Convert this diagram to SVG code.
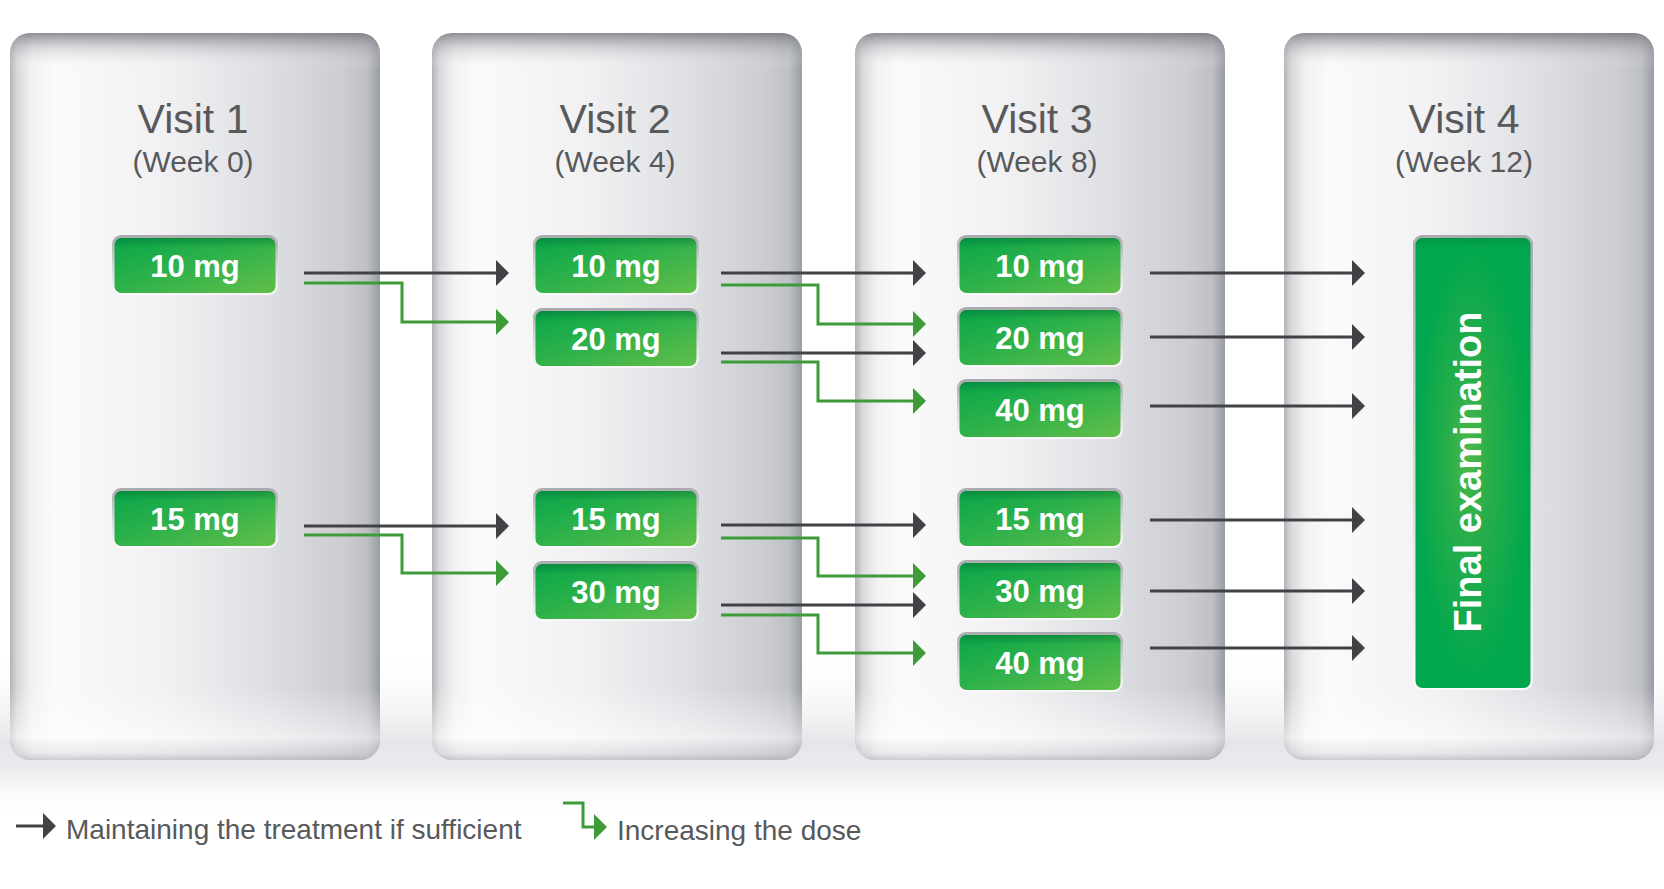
<svg xmlns="http://www.w3.org/2000/svg" width="1664" height="889" viewBox="0 0 1664 889">
<defs>
<style>
.vt{font-family:"Liberation Sans",Arial,sans-serif;font-size:41px;fill:#58595b;text-anchor:middle}
.wk{font-family:"Liberation Sans",Arial,sans-serif;font-size:30px;fill:#58595b;text-anchor:middle}
.dose{font-family:"Liberation Sans",Arial,sans-serif;font-size:31px;font-weight:bold;fill:#ffffff;text-anchor:middle}
.lg{font-family:"Liberation Sans",Arial,sans-serif;font-size:28px;fill:#58595b}
.dk{fill:none;stroke:#414246;stroke-width:3;marker-end:url(#ahd)}
.gr{fill:none;stroke:#3d9b38;stroke-width:3;marker-end:url(#ahg)}
.pbase{fill:url(#panelH)}
.ptop{fill:url(#panelV)}
.bframe{fill:url(#boxFrame)}
.bgreen{fill:url(#boxGreen)}
.bshade{fill:url(#boxTop)}
</style>
<linearGradient id="panelH" x1="0" y1="0" x2="1" y2="0">
<stop offset="0" stop-color="#b4b4b8"/>
<stop offset="0.02" stop-color="#d9d9dc"/>
<stop offset="0.06" stop-color="#f2f2f3"/>
<stop offset="0.12" stop-color="#fafafa"/>
<stop offset="0.42" stop-color="#f1f1f3"/>
<stop offset="0.68" stop-color="#dfe0e4"/>
<stop offset="0.9" stop-color="#cbcdd2"/>
<stop offset="0.965" stop-color="#bec0c6"/>
<stop offset="1" stop-color="#989ba2"/>
</linearGradient>
<linearGradient id="panelV" x1="0" y1="0" x2="0" y2="1">
<stop offset="0" stop-color="#6c6e74" stop-opacity="0.75"/>
<stop offset="0.018" stop-color="#8c8e94" stop-opacity="0.35"/>
<stop offset="0.05" stop-color="#ffffff" stop-opacity="0"/>
<stop offset="0.9" stop-color="#ffffff" stop-opacity="0"/>
<stop offset="0.97" stop-color="#ffffff" stop-opacity="0.55"/>
<stop offset="0.99" stop-color="#d8d9dc" stop-opacity="0.4"/>
<stop offset="1" stop-color="#a8aab0" stop-opacity="0.6"/>
</linearGradient>
<linearGradient id="floor" x1="0" y1="0" x2="0" y2="1">
<stop offset="0" stop-color="#ffffff" stop-opacity="0"/>
<stop offset="0.55" stop-color="#e4e5e8"/>
<stop offset="0.7" stop-color="#ebecee"/>
<stop offset="1" stop-color="#ffffff" stop-opacity="0"/>
</linearGradient>
<linearGradient id="boxFrame" x1="0" y1="0" x2="0" y2="1">
<stop offset="0" stop-color="#a9aaad"/>
<stop offset="0.5" stop-color="#d6d7d9"/>
<stop offset="1" stop-color="#fbfbfb"/>
</linearGradient>
<linearGradient id="boxGreen" x1="0" y1="0" x2="1" y2="1">
<stop offset="0" stop-color="#08a64a"/>
<stop offset="0.45" stop-color="#2cb14a"/>
<stop offset="1" stop-color="#62be4a"/>
</linearGradient>
<linearGradient id="boxTop" x1="0" y1="0" x2="0" y2="1">
<stop offset="0" stop-color="#006b2e" stop-opacity="0.45"/>
<stop offset="0.18" stop-color="#006b2e" stop-opacity="0"/>
<stop offset="1" stop-color="#006b2e" stop-opacity="0"/>
</linearGradient>
<radialGradient id="finalGreen" cx="0.5" cy="0.5" r="0.5" fx="0.45" fy="0.48">
<stop offset="0" stop-color="#4fb848"/>
<stop offset="0.35" stop-color="#2aae4a"/>
<stop offset="1" stop-color="#00a74e"/>
</radialGradient>
<marker id="ahd" markerUnits="userSpaceOnUse" viewBox="0 0 16 28" markerWidth="16" markerHeight="28" refX="2" refY="13" orient="auto">
<path d="M0,0 L13,13 L0,26 Z" fill="#414246"/>
</marker>
<marker id="ahg" markerUnits="userSpaceOnUse" viewBox="0 0 16 28" markerWidth="16" markerHeight="28" refX="2" refY="13" orient="auto">
<path d="M0,0 L13,13 L0,26 Z" fill="#3d9b38"/>
</marker>
</defs>
<rect x="0" y="0" width="1664" height="889" fill="#ffffff"/>
<rect x="0" y="650" width="1664" height="170" fill="url(#floor)"/>

<g id="panel-visit1">
<rect class="pbase" x="10" y="33" width="370" height="727" rx="20"/>
<rect class="ptop" x="10" y="33" width="370" height="727" rx="20"/>
<text class="vt" x="193" y="133">Visit 1</text>
<text class="wk" x="193" y="172">(Week 0)</text>
</g>
<g id="panel-visit2">
<rect class="pbase" x="432" y="33" width="370" height="727" rx="20"/>
<rect class="ptop" x="432" y="33" width="370" height="727" rx="20"/>
<text class="vt" x="615" y="133">Visit 2</text>
<text class="wk" x="615" y="172">(Week 4)</text>
</g>
<g id="panel-visit3">
<rect class="pbase" x="855" y="33" width="370" height="727" rx="20"/>
<rect class="ptop" x="855" y="33" width="370" height="727" rx="20"/>
<text class="vt" x="1037" y="133">Visit 3</text>
<text class="wk" x="1037" y="172">(Week 8)</text>
</g>
<g id="panel-visit4">
<rect class="pbase" x="1284" y="33" width="370" height="727" rx="20"/>
<rect class="ptop" x="1284" y="33" width="370" height="727" rx="20"/>
<text class="vt" x="1464" y="133">Visit 4</text>
<text class="wk" x="1464" y="172">(Week 12)</text>
</g>

<g id="v1-10mg"><rect class="bframe" x="112" y="235" width="166" height="60" rx="9"/><rect class="bgreen" x="114.5" y="238" width="161" height="55" rx="7"/><rect class="bshade" x="114.5" y="238" width="161" height="55" rx="7"/><text class="dose" x="195" y="277">10 mg</text></g>
<g id="v1-15mg"><rect class="bframe" x="112" y="488" width="166" height="60" rx="9"/><rect class="bgreen" x="114.5" y="491" width="161" height="55" rx="7"/><rect class="bshade" x="114.5" y="491" width="161" height="55" rx="7"/><text class="dose" x="195" y="530">15 mg</text></g>

<g id="v2-10mg"><rect class="bframe" x="533" y="235" width="166" height="60" rx="9"/><rect class="bgreen" x="535.5" y="238" width="161" height="55" rx="7"/><rect class="bshade" x="535.5" y="238" width="161" height="55" rx="7"/><text class="dose" x="616" y="277">10 mg</text></g>
<g id="v2-20mg"><rect class="bframe" x="533" y="308" width="166" height="60" rx="9"/><rect class="bgreen" x="535.5" y="311" width="161" height="55" rx="7"/><rect class="bshade" x="535.5" y="311" width="161" height="55" rx="7"/><text class="dose" x="616" y="350">20 mg</text></g>
<g id="v2-15mg"><rect class="bframe" x="533" y="488" width="166" height="60" rx="9"/><rect class="bgreen" x="535.5" y="491" width="161" height="55" rx="7"/><rect class="bshade" x="535.5" y="491" width="161" height="55" rx="7"/><text class="dose" x="616" y="530">15 mg</text></g>
<g id="v2-30mg"><rect class="bframe" x="533" y="561" width="166" height="60" rx="9"/><rect class="bgreen" x="535.5" y="564" width="161" height="55" rx="7"/><rect class="bshade" x="535.5" y="564" width="161" height="55" rx="7"/><text class="dose" x="616" y="603">30 mg</text></g>

<g id="v3-10mg"><rect class="bframe" x="957" y="235" width="166" height="60" rx="9"/><rect class="bgreen" x="959.5" y="238" width="161" height="55" rx="7"/><rect class="bshade" x="959.5" y="238" width="161" height="55" rx="7"/><text class="dose" x="1040" y="277">10 mg</text></g>
<g id="v3-20mg"><rect class="bframe" x="957" y="307" width="166" height="60" rx="9"/><rect class="bgreen" x="959.5" y="310" width="161" height="55" rx="7"/><rect class="bshade" x="959.5" y="310" width="161" height="55" rx="7"/><text class="dose" x="1040" y="349">20 mg</text></g>
<g id="v3-40mg-a"><rect class="bframe" x="957" y="379" width="166" height="60" rx="9"/><rect class="bgreen" x="959.5" y="382" width="161" height="55" rx="7"/><rect class="bshade" x="959.5" y="382" width="161" height="55" rx="7"/><text class="dose" x="1040" y="421">40 mg</text></g>
<g id="v3-15mg"><rect class="bframe" x="957" y="488" width="166" height="60" rx="9"/><rect class="bgreen" x="959.5" y="491" width="161" height="55" rx="7"/><rect class="bshade" x="959.5" y="491" width="161" height="55" rx="7"/><text class="dose" x="1040" y="530">15 mg</text></g>
<g id="v3-30mg"><rect class="bframe" x="957" y="560" width="166" height="60" rx="9"/><rect class="bgreen" x="959.5" y="563" width="161" height="55" rx="7"/><rect class="bshade" x="959.5" y="563" width="161" height="55" rx="7"/><text class="dose" x="1040" y="602">30 mg</text></g>
<g id="v3-40mg-b"><rect class="bframe" x="957" y="632" width="166" height="60" rx="9"/><rect class="bgreen" x="959.5" y="635" width="161" height="55" rx="7"/><rect class="bshade" x="959.5" y="635" width="161" height="55" rx="7"/><text class="dose" x="1040" y="674">40 mg</text></g>

<g id="v4-final">
<rect class="bframe" x="1413" y="235" width="120" height="455" rx="9"/>
<rect x="1415.5" y="238" width="115" height="450" rx="7" fill="url(#finalGreen)"/>
<rect class="bshade" x="1415.5" y="238" width="115" height="60" rx="7" opacity="0.6"/>
<text class="dose" style="font-size:38px" transform="translate(1481 472) rotate(-90)" x="0" y="0">Final examination</text>
</g>

<g id="connectors">
<path class="dk" d="M304,273 H498"/>
<path class="gr" d="M304,283 H402 V322 H498"/>
<path class="dk" d="M304,526 H498"/>
<path class="gr" d="M304,535 H402 V573 H498"/>
<path class="dk" d="M721,273 H915"/>
<path class="gr" d="M721,285 H818 V324 H915"/>
<path class="dk" d="M721,353 H915"/>
<path class="gr" d="M721,362 H818 V401 H915"/>
<path class="dk" d="M721,525 H915"/>
<path class="gr" d="M721,538 H818 V576 H915"/>
<path class="dk" d="M721,605 H915"/>
<path class="gr" d="M721,615 H818 V653 H915"/>
<path class="dk" d="M1150,273 H1354"/>
<path class="dk" d="M1150,337 H1354"/>
<path class="dk" d="M1150,406 H1354"/>
<path class="dk" d="M1150,520 H1354"/>
<path class="dk" d="M1150,591 H1354"/>
<path class="dk" d="M1150,648 H1354"/>
</g>

<g id="legend">
<path class="dk" d="M16,826 H45"/>
<text class="lg" x="66" y="839">Maintaining the treatment if sufficient</text>
<path class="gr" d="M563,803 H583 V827 H596"/>
<text class="lg" x="617" y="840">Increasing the dose</text>
</g>
</svg>
